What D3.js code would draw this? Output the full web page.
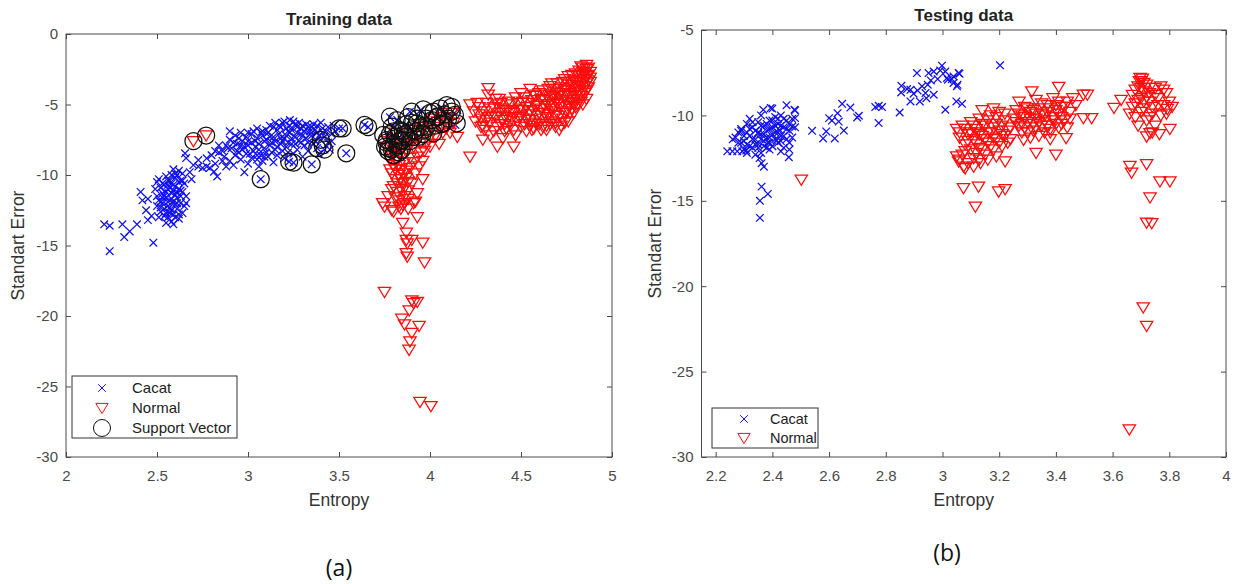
<!DOCTYPE html>
<html><head><meta charset="utf-8">
<script src="https://cdn.jsdelivr.net/npm/d3@7"></script>
<style>
body{margin:0;background:#fff;}
svg text{font-family:"Liberation Sans",Arial,sans-serif;}
</style>
</head><body>
<svg id="chart" width="1234" height="584"></svg>
<script>
// ---------- DATA ----------
const trainTitle = "Training data";
const testTitle = "Testing data";
const xLabel = "Entropy";
const yLabel = "Standart Error";
const trainLegend = ["Cacat", "Normal", "Support Vector"];
const testLegend = ["Cacat", "Normal"];
const trainXTicks = [2, 2.5, 3, 3.5, 4, 4.5, 5];
const trainYTicks = [0, -5, -10, -15, -20, -25, -30];
const testXTicks = [2.2, 2.4, 2.6, 2.8, 3, 3.2, 3.4, 3.6, 3.8, 4];
const testYTicks = [-5, -10, -15, -20, -25, -30];

const trainCacat = [
[2.21,-13.5],[2.24,-13.6],[2.24,-15.4],[2.31,-13.5],[2.32,-14.4],[2.35,-14.0],[2.39,-13.5],[2.45,-13.2],[2.48,-14.8],[2.41,-11.2],[2.42,-11.8],[2.45,-11.7],[2.44,-12.5],[2.47,-12.9],
[2.50,-10.5],[2.52,-10.9],[2.53,-11.3],[2.51,-11.8],[2.50,-12.2],[2.52,-12.6],[2.54,-12.9],[2.55,-13.4],[2.56,-12.2],[2.55,-11.6],[2.56,-11.0],[2.57,-10.4],[2.58,-10.0],[2.59,-10.7],[2.58,-11.3],[2.59,-11.9],[2.58,-12.5],[2.60,-13.0],[2.61,-12.4],[2.61,-11.6],[2.62,-11.0],[2.60,-10.2],[2.62,-9.7],[2.63,-10.4],[2.64,-11.2],[2.63,-12.0],[2.64,-12.7],[2.62,-13.1],[2.65,-12.2],[2.66,-11.5],[2.54,-10.7],[2.53,-12.0],[2.56,-13.0],[2.57,-11.8],[2.55,-10.1],[2.59,-9.6],[2.61,-10.0],[2.65,-10.6],[2.49,-11.0],[2.51,-13.0],[2.57,-12.7],[2.60,-11.4],[2.62,-12.8],[2.64,-9.9],[2.53,-11.6],[2.58,-13.3],[2.66,-12.0],[2.63,-11.5],[2.56,-10.7],[2.60,-12.1],
[2.50,-11.5],[2.51,-10.3],[2.52,-11.9],[2.53,-10.6],[2.54,-12.4],[2.55,-11.2],[2.56,-11.9],[2.57,-10.9],[2.57,-12.3],[2.58,-10.6],[2.58,-11.7],[2.59,-11.1],[2.59,-12.8],[2.60,-10.8],[2.61,-11.2],[2.61,-12.0],[2.62,-10.5],[2.63,-11.1],[2.64,-10.4],[2.54,-11.5],[2.55,-12.7],[2.52,-12.3],[2.60,-9.9],[2.59,-13.5],[2.56,-10.4],
[2.654,-8.46],[2.66,-8.8],[2.727,-8.94],[2.773,-8.82],[2.727,-9.4],[2.773,-9.4],[2.813,-9.77],[2.831,-10.1],[2.68,-9.8],[2.70,-9.3],[2.75,-9.5],[2.79,-9.5],[2.82,-9.2],[2.84,-8.4],[2.80,-8.6],[2.86,-9.0],[2.88,-9.4],[2.69,-10.3],
[3.12,-6.5],[3.15,-6.3],[3.18,-6.6],[3.20,-6.2],[3.23,-6.5],[3.26,-6.4],[3.29,-6.7],[3.32,-6.4],[3.35,-6.6],[3.38,-6.5],[3.41,-6.7],[3.44,-6.6],[3.16,-6.8],[3.22,-6.9],[3.28,-6.3],[3.34,-6.9],[3.05,-6.7],[3.08,-6.9],
[2.93,-7.2],[2.96,-7.0],[2.99,-7.3],[3.02,-7.1],[3.05,-7.4],[3.08,-7.2],[3.11,-7.0],[3.14,-7.3],[3.17,-7.1],[3.20,-7.4],[3.23,-7.0],[3.26,-7.3],[3.29,-7.1],[3.32,-7.4],[3.35,-7.2],[3.38,-7.0],[3.42,-7.3],[2.90,-7.5],[3.00,-7.6],[3.10,-7.5],[3.19,-7.6],[3.28,-7.6],
[2.88,-7.9],[2.91,-8.1],[2.94,-7.8],[2.97,-8.2],[3.00,-7.9],[3.03,-8.3],[3.06,-7.8],[3.09,-8.1],[3.12,-7.9],[3.15,-8.2],[3.18,-7.8],[3.21,-8.0],[3.24,-7.8],[3.27,-8.2],[3.31,-7.9],[3.36,-7.8],[2.86,-8.3],[2.95,-8.4],[3.04,-8.0],[3.13,-8.4],
[2.87,-8.7],[2.90,-9.0],[2.93,-8.6],[2.96,-8.9],[2.99,-8.5],[3.02,-8.8],[3.05,-8.6],[3.08,-9.0],[3.11,-8.7],[3.16,-8.6],[3.20,-8.8],[3.25,-8.5],[2.92,-9.3],[2.98,-9.8],[3.06,-9.4],[3.14,-9.1],[3.30,-8.7],[3.33,-8.3],[3.39,-8.5],
[2.84,-7.9],[2.82,-8.3],[3.46,-7.6],[3.48,-6.9],[3.45,-8.2],
[2.90,-6.9],[2.92,-7.7],[2.94,-8.3],[2.95,-7.4],[2.97,-7.6],[2.98,-8.0],[3.00,-7.0],[3.01,-8.5],[3.02,-7.7],[3.03,-6.9],[3.04,-7.6],[3.06,-8.2],[3.07,-7.0],[3.07,-8.6],[3.09,-7.6],[3.10,-6.8],[3.10,-8.4],[3.12,-7.3],[3.13,-7.7],[3.14,-6.6],[3.15,-7.6],[3.16,-8.0],[3.17,-6.5],[3.18,-7.4],[3.19,-8.3],[3.21,-6.7],[3.21,-7.2],[3.22,-7.7],[3.24,-6.8],[3.24,-7.4],[3.25,-6.2],[3.26,-7.8],[3.27,-6.6],[3.27,-7.0],[3.29,-7.7],[3.30,-6.5],[3.30,-7.2],[3.31,-6.9],[3.33,-6.6],[3.33,-7.7],[3.34,-7.1],[3.36,-6.4],[3.37,-7.6],[3.37,-6.8],[3.39,-7.2],[3.40,-6.3],[3.41,-7.0],[3.43,-6.9],[3.44,-7.7],[3.46,-7.1],[3.47,-6.5],[3.19,-6.3],[3.23,-6.1],[2.96,-7.9],[2.89,-8.1],[3.05,-8.9],[3.00,-9.2],[3.09,-8.7],[3.22,-8.4],
[3.64,-6.45],[3.66,-6.6],[3.50,-6.7],[3.52,-6.7],[3.54,-8.46],[3.07,-10.3],[3.226,-9.06],[3.25,-9.13],[3.35,-9.24],[3.38,-8.1],[3.42,-8.2],[3.40,-7.5],
[3.78,-5.9],[3.80,-6.6],[3.82,-6.1],[3.89,-5.51],[3.95,-5.39],[3.83,-7.0],[4.06,-5.27],[4.15,-5.39],[4.14,-6.45],[4.10,-5.9],[3.86,-6.5],[3.77,-7.2]
];

const trainNormal = [
[2.70,-7.6],[2.77,-7.2],
[3.76,-8.0],[3.78,-8.4],[3.80,-7.6],[3.82,-8.1],[3.84,-7.3],[3.86,-7.8],[3.88,-7.0],[3.90,-7.5],[3.92,-6.8],[3.94,-7.2],[3.96,-6.6],[3.98,-7.0],[4.00,-6.4],[4.02,-6.8],[4.04,-6.2],[4.06,-6.6],[4.08,-5.9],[4.10,-6.3],[4.12,-5.6],[3.79,-8.6],[3.83,-8.5],[3.87,-8.2],[3.91,-8.0],[3.95,-7.7],[3.99,-7.5],[4.03,-7.2],[4.07,-7.0],[3.97,-8.3],[4.05,-7.8],[4.11,-7.0],[4.15,-7.3],[3.93,-8.7],[4.00,-8.0],
[3.77,-7.6],[3.81,-7.0],[3.85,-8.0],[3.89,-7.9],[3.94,-6.4],[4.01,-6.0],[4.06,-5.6],[4.09,-6.7],[4.13,-6.3],[3.98,-7.8],
[3.78,-8.9],[3.80,-9.3],[3.82,-9.0],[3.84,-9.6],[3.79,-9.9],[3.81,-10.3],[3.83,-10.0],[3.85,-10.6],[3.87,-10.2],[3.80,-10.8],[3.82,-11.2],[3.84,-11.0],[3.86,-11.5],[3.88,-11.1],[3.83,-11.8],[3.85,-12.1],[3.77,-11.5],[3.90,-10.6],[3.92,-9.9],[3.94,-9.4],[3.96,-9.0],[3.89,-9.5],[3.86,-9.1],[3.91,-12.0],[3.93,-11.3],[3.96,-10.3],[3.75,-12.25],[3.80,-12.6],[3.83,-12.25],[3.88,-12.4],[3.92,-11.9],[3.74,-12.0],[3.79,-12.5],[3.93,-13.0],[3.85,-13.4],
[3.78,-9.6],[3.80,-8.5],[3.81,-9.6],[3.83,-9.3],[3.84,-10.3],[3.85,-9.9],[3.86,-10.9],[3.87,-9.7],[3.88,-10.5],[3.89,-8.8],[3.81,-11.6],[3.84,-12.4],[3.86,-12.0],[3.79,-11.0],[3.91,-9.1],[3.95,-8.4],[3.82,-10.6],[3.88,-11.7],
[3.87,-14.1],[3.87,-14.6],[3.90,-14.6],[3.875,-14.85],[3.96,-14.8],[3.87,-15.55],[3.875,-15.8],[3.97,-16.2],[3.75,-18.3],[3.90,-18.9],[3.93,-19.0],[3.91,-19.1],[3.886,-19.6],[3.845,-20.2],[3.86,-20.6],[3.94,-20.7],[3.90,-21.2],[3.89,-21.8],[3.885,-22.4],[3.945,-26.1],[4.005,-26.4],
[4.22,-8.7],[4.22,-5.0],[4.32,-3.85],[4.32,-4.3],[4.29,-7.5],[4.37,-8.0],[4.46,-8.0],[4.64,-6.8],[4.71,-6.8],[4.57,-6.7],[4.86,-3.5],[4.25,-6.2],[4.27,-5.7],[4.33,-7.2],[4.40,-7.4],[4.47,-7.2],[4.41,-6.9],
[4.24,-5.5],[4.27,-5.2],[4.28,-6.0],[4.30,-5.5],[4.31,-4.9],[4.33,-6.3],[4.34,-5.8],[4.35,-5.2],[4.37,-6.6],[4.38,-5.6],[4.39,-4.9],[4.40,-6.1],[4.42,-5.4],[4.43,-5.9],[4.44,-6.5],[4.45,-5.0],[4.46,-5.6],[4.48,-6.2],[4.49,-5.3],[4.50,-5.8],[4.51,-4.8],[4.52,-6.4],[4.53,-5.2],[4.54,-5.7],[4.55,-6.1],[4.56,-4.7],[4.57,-5.4],[4.58,-6.3],[4.59,-5.0],[4.36,-4.6],[4.29,-6.5],[4.47,-4.5],[4.32,-5.9],[4.41,-6.4],[4.55,-6.5],
[4.60,-5.6],[4.61,-4.6],[4.62,-6.0],[4.63,-5.1],[4.64,-4.3],[4.65,-5.7],[4.66,-4.8],[4.67,-6.2],[4.68,-5.3],[4.69,-4.1],[4.70,-4.6],[4.71,-5.8],[4.72,-5.0],[4.73,-3.8],[4.74,-4.4],[4.75,-5.5],[4.76,-3.6],[4.77,-4.2],[4.78,-4.9],[4.79,-3.3],[4.80,-3.9],[4.81,-4.6],[4.82,-3.0],[4.83,-3.6],[4.84,-2.7],[4.85,-3.2],[4.86,-2.5],[4.87,-2.9],[4.62,-4.0],[4.66,-3.7],[4.70,-3.5],[4.74,-3.2],[4.78,-2.9],[4.82,-2.6],[4.60,-6.4],[4.64,-6.5],[4.69,-6.3],[4.73,-6.0],[4.77,-5.6],[4.80,-5.2],[4.83,-4.8],[4.85,-4.2],[4.87,-3.8],[4.84,-4.0],[4.88,-3.4],[4.67,-4.4],[4.72,-4.2],[4.75,-4.7],[4.79,-4.3],[4.68,-5.0],[4.63,-5.6],[4.58,-4.4],[4.55,-3.9],[4.50,-4.2],[4.86,-2.2],[4.83,-2.3],[4.81,-3.4],[4.76,-3.0],[4.70,-4.9],
[4.26,-4.9],[4.28,-6.6],[4.30,-6.8],[4.31,-6.1],[4.33,-5.3],[4.35,-6.9],[4.36,-5.9],[4.37,-5.0],[4.39,-6.4],[4.40,-5.3],[4.42,-6.7],[4.43,-4.8],[4.44,-5.5],[4.45,-6.0],[4.46,-6.8],[4.48,-4.9],[4.49,-5.9],[4.50,-6.6],[4.51,-5.4],[4.52,-4.5],[4.53,-6.0],[4.54,-4.9],[4.55,-5.5],[4.56,-6.8],[4.57,-4.3],[4.58,-5.1],[4.59,-5.8],[4.60,-4.2],[4.61,-5.3],[4.62,-6.6],[4.63,-4.7],[4.64,-5.9],[4.65,-3.9],[4.65,-5.0],[4.66,-6.4],[4.67,-3.5],[4.67,-5.5],[4.68,-4.5],[4.69,-5.8],[4.70,-3.9],[4.71,-5.2],[4.71,-4.3],[4.72,-6.5],[4.73,-4.8],[4.73,-3.4],[4.74,-5.6],[4.75,-4.0],[4.76,-5.1],[4.76,-6.2],[4.77,-3.4],[4.77,-4.7],[4.78,-5.3],[4.78,-3.8],[4.79,-4.9],[4.80,-2.8],[4.80,-4.4],[4.81,-3.7],[4.81,-5.0],[4.82,-4.1],[4.82,-3.3],[4.83,-2.9],[4.83,-4.4],[4.84,-3.4],[4.84,-2.4],[4.85,-3.7],[4.85,-2.8],[4.86,-4.0],[4.86,-3.0],[4.87,-2.4],[4.87,-3.3],[4.88,-2.7],[4.88,-3.1],[4.86,-4.6],[4.84,-5.0],[4.79,-5.6],[4.74,-6.3],[4.69,-6.6],[4.61,-6.8],[4.53,-6.9],[4.41,-5.8],[4.38,-4.6]
];

const trainSupport = [
[2.70,-7.6],[2.77,-7.2],[3.07,-10.3],[3.226,-9.06],[3.25,-9.13],[3.35,-9.24],[3.38,-8.1],[3.42,-8.2],[3.40,-7.5],[3.41,-7.9],[3.50,-6.7],[3.52,-6.7],[3.54,-8.46],[3.64,-6.45],[3.66,-6.6],
[3.762,-7.52],[3.771,-8.11],[3.79,-6.57],[3.817,-6.1],[3.835,-6.81],[3.853,-7.52],[3.826,-7.87],[3.798,-8.58],[3.872,-7.28],[3.908,-6.81],[3.899,-5.51],[3.963,-5.34],[3.927,-6.33],[3.982,-6.57],[4.01,-6.1],[4.037,-5.86],[4.055,-5.27],[4.092,-5.04],[4.119,-5.16],[4.137,-5.74],[4.147,-6.33],[4.073,-6.33],[4.018,-7.04],[3.945,-7.28],[3.78,-5.86],[3.743,-7.16],[3.808,-7.28],[3.844,-8.23],[3.753,-7.99],
[3.79,-8.2],[3.77,-8.3],[3.80,-7.8],[3.84,-7.6],[3.86,-7.1],[3.92,-6.9],[3.97,-6.8],[4.03,-6.5],[4.08,-5.7],[4.02,-5.5],[3.88,-5.9],[3.80,-6.9],
[3.76,-7.7],[3.78,-7.1],[3.81,-7.4],[3.82,-8.0],[3.85,-6.9],[3.87,-6.4],[3.89,-7.6],[3.90,-6.3],[3.93,-6.0],[3.95,-6.6],[3.98,-6.0],[4.00,-5.6],[4.04,-5.9],[4.06,-6.4],[4.10,-6.0],[3.83,-8.4],[3.80,-8.6],[3.91,-7.3],[3.96,-7.1],[4.12,-5.5]
];

const testCacat = [
[2.241,-12.1],[2.259,-12.1],[2.276,-12.1],[2.294,-12.1],[2.308,-12.05],
[2.27,-11.3],[2.28,-11.0],[2.29,-10.8],[2.30,-11.5],[2.31,-11.0],[2.31,-10.5],[2.32,-11.8],[2.32,-11.2],[2.33,-10.7],[2.33,-11.9],[2.34,-11.4],[2.34,-10.9],[2.35,-10.4],[2.35,-11.7],[2.36,-11.1],[2.36,-12.2],[2.37,-10.6],[2.37,-11.5],[2.38,-10.9],[2.38,-11.9],[2.39,-10.3],[2.39,-11.3],[2.40,-10.7],[2.40,-11.8],[2.41,-10.1],[2.41,-11.0],[2.42,-10.5],[2.42,-11.6],[2.43,-10.0],[2.43,-11.2],[2.44,-10.7],[2.44,-11.9],[2.45,-10.3],[2.45,-11.4],[2.46,-10.9],[2.46,-12.0],[2.47,-10.2],[2.47,-11.3],[2.48,-10.7],[2.48,-9.7],[2.30,-12.0],[2.34,-12.3],[2.39,-12.0],[2.43,-12.1],[2.32,-10.2],[2.36,-10.0],[2.40,-9.6],[2.355,-12.5],[2.362,-12.8],[2.37,-13.0],[2.362,-14.17],[2.384,-14.6],[2.356,-15.0],[2.356,-16.0],[2.458,-12.45],[2.45,-9.4],[2.478,-9.67],[2.48,-10.16],[2.47,-10.65],[2.394,-9.57],[2.368,-9.67],[2.29,-11.6],[2.26,-11.4],[2.385,-11.6],[2.415,-11.45],[2.35,-11.05],[2.425,-10.85],
[2.28,-11.6],[2.29,-10.9],[2.30,-11.2],[2.31,-11.7],[2.32,-10.8],[2.33,-11.4],[2.33,-10.4],[2.34,-11.7],[2.35,-11.0],[2.36,-11.4],[2.36,-10.6],[2.37,-11.8],[2.37,-11.1],[2.38,-10.5],[2.38,-11.3],[2.39,-10.8],[2.39,-11.6],[2.40,-10.3],[2.40,-11.1],[2.41,-11.4],[2.41,-10.6],[2.42,-10.2],[2.42,-11.0],[2.43,-10.6],[2.43,-11.5],[2.44,-10.2],[2.44,-11.2],[2.45,-10.8],[2.46,-11.6],[2.46,-10.5],[2.35,-11.9],[2.31,-12.2],
[2.54,-10.9],[2.579,-11.35],[2.62,-11.35],[2.59,-10.94],[2.60,-10.16],[2.63,-9.87],[2.634,-10.36],[2.646,-9.32],[2.652,-10.89],[2.675,-9.54],[2.699,-10.12],[2.705,-10.02],[2.763,-9.51],[2.775,-9.44],[2.787,-9.51],[2.775,-10.45],[2.849,-9.83],[2.61,-10.3],
[2.854,-8.66],[2.875,-8.46],[2.887,-8.5],[2.912,-8.54],[2.928,-8.3],[2.948,-8.2],[2.959,-7.95],[2.983,-7.87],[2.998,-7.09],[3.01,-7.43],[3.019,-7.91],[3.033,-7.87],[3.06,-7.56],[3.051,-8.3],[3.01,-9.67],[3.049,-9.18],[3.069,-9.32],[2.855,-8.27],[2.887,-9.18],[2.92,-9.18],[2.94,-8.69],[2.91,-7.52],[2.951,-7.52],[2.969,-7.43],[2.992,-7.37],[3.016,-7.81],[3.039,-8.1],[2.943,-8.99],[2.898,-8.73],[2.969,-8.79],
[3.039,-7.72],[3.057,-7.52],[3.053,-8.21],[3.203,-7.07]
];

const testNormal = [
[2.502,-13.77],
[3.05,-10.8],[3.06,-11.3],[3.07,-10.6],[3.08,-11.7],[3.09,-11.1],[3.10,-10.4],[3.10,-12.0],[3.11,-11.4],[3.12,-10.8],[3.13,-11.9],[3.13,-10.2],[3.14,-11.2],[3.15,-10.6],[3.15,-12.3],[3.16,-11.6],[3.17,-10.0],[3.17,-11.0],[3.18,-12.0],[3.19,-10.5],[3.19,-11.4],[3.20,-9.8],[3.20,-10.9],[3.21,-11.8],[3.22,-10.3],[3.22,-11.2],[3.23,-11.6],[3.24,-10.7],[3.14,-9.7],[3.18,-9.6],[3.11,-12.5],[3.07,-12.3],[3.09,-12.8],[3.057,-12.7],[3.074,-13.0],[3.11,-13.0],[3.134,-12.8],[3.221,-12.7],[3.074,-14.26],[3.127,-14.17],[3.198,-14.46],[3.221,-14.32],[3.116,-15.34],[3.16,-12.6],[3.05,-12.4],[3.12,-11.0],[3.19,-12.4],[3.24,-11.4],
[3.06,-11.0],[3.08,-10.8],[3.08,-12.1],[3.09,-11.5],[3.10,-11.0],[3.11,-10.6],[3.12,-11.7],[3.12,-12.2],[3.13,-11.1],[3.14,-10.5],[3.14,-12.0],[3.15,-11.4],[3.16,-10.3],[3.16,-11.0],[3.17,-11.8],[3.18,-10.7],[3.18,-11.3],[3.19,-10.1],[3.20,-11.6],[3.21,-10.6],[3.21,-11.1],[3.22,-9.9],[3.23,-10.9],[3.06,-12.6],[3.08,-13.1],[3.13,-12.6],
[3.25,-10.2],[3.26,-9.7],[3.27,-10.6],[3.28,-10.0],[3.29,-9.5],[3.30,-10.4],[3.31,-9.8],[3.32,-10.9],[3.33,-10.2],[3.34,-9.6],[3.35,-10.6],[3.36,-10.0],[3.37,-9.4],[3.38,-10.8],[3.39,-10.3],[3.40,-9.7],[3.41,-9.2],[3.42,-10.1],[3.43,-9.5],[3.44,-10.7],[3.45,-9.8],[3.47,-9.4],[3.30,-11.0],[3.34,-11.2],[3.38,-11.4],[3.42,-10.5],[3.27,-9.2],[3.33,-9.1],[3.39,-9.0],[3.36,-11.0],[3.315,-8.6],[3.41,-8.34],[3.33,-12.2],[3.40,-12.3],[3.436,-11.33],[3.286,-11.43],[3.497,-8.79],[3.511,-8.79],[3.497,-10.16],[3.526,-10.16],[3.46,-9.0],[3.35,-9.9],[3.29,-10.7],
[3.26,-10.4],[3.27,-9.9],[3.28,-10.5],[3.29,-10.1],[3.30,-9.6],[3.31,-10.2],[3.32,-9.7],[3.32,-10.5],[3.33,-9.9],[3.34,-10.4],[3.35,-9.3],[3.36,-10.3],[3.37,-9.8],[3.37,-10.6],[3.38,-9.6],[3.39,-10.1],[3.40,-10.5],[3.40,-9.4],[3.41,-9.9],[3.42,-9.5],[3.43,-10.3],[3.44,-9.2],[3.45,-10.2],[3.41,-10.7],[3.38,-11.0],[3.33,-10.7],[3.28,-11.0],[3.31,-11.3],
[3.605,-9.57],[3.667,-13.35],[3.72,-12.86],[3.661,-12.96],[3.767,-13.87],[3.802,-13.87],[3.732,-14.81],[3.72,-16.28],[3.738,-16.31],[3.802,-10.8],[3.765,-11.1],[3.72,-11.24],[3.732,-11.04],[3.793,-9.63],[3.708,-21.24],[3.72,-22.33],[3.659,-28.39],[3.697,-7.81],
[3.67,-8.8],[3.68,-9.3],[3.69,-8.3],[3.70,-9.0],[3.70,-8.0],[3.71,-9.6],[3.71,-8.6],[3.72,-8.2],[3.73,-9.2],[3.73,-8.7],[3.74,-9.9],[3.75,-8.4],[3.76,-9.0],[3.77,-8.3],[3.78,-9.4],[3.79,-8.7],[3.80,-9.2],[3.81,-9.5],[3.66,-9.9],[3.68,-10.1],[3.72,-10.3],[3.75,-10.6],[3.63,-9.1],[3.69,-10.6],[3.74,-11.0],[3.77,-10.0],[3.695,-8.0],[3.705,-7.85],
[3.67,-9.5],[3.68,-8.5],[3.69,-9.1],[3.70,-8.4],[3.71,-9.2],[3.71,-8.1],[3.72,-8.9],[3.73,-8.4],[3.74,-9.5],[3.75,-8.8],[3.76,-9.4],[3.78,-8.5],[3.70,-9.8],[3.73,-10.1],[3.79,-9.9]
];

// ---------- DRAWING ----------
const svg = d3.select("#chart");
const BLUE = "#1010f0", RED = "#ff0d0d", AXIS = "#4a4a4a", TXT = "#333";
const xPath = "M-3.8,-3.8L3.8,3.8M-3.8,3.8L3.8,-3.8";
const triPath = "M-6.2,-4.6L6.2,-4.6L0,5.6Z";
const tickFmt = d => String(d);

function panel(cfg) {
  const {x, y, xTicks, yTicks, title, legendItems, legendBox, sets} = cfg;
  const g = svg.append("g");
  const [x0, x1] = x.range(), [y0, y1] = y.range();

  const clip = "clip" + Math.round(x0);
  svg.append("clipPath").attr("id", clip).append("rect")
    .attr("x", x0).attr("y", y1).attr("width", x1 - x0).attr("height", y0 - y1);
  const dg = g.append("g").attr("clip-path", `url(#${clip})`);
  dg.append("g").selectAll("path").data(sets.cacat).join("path")
    .attr("d", xPath).attr("transform", d => `translate(${x(d[0])},${y(d[1])})`)
    .attr("stroke", BLUE).attr("stroke-width", 1.25).attr("fill", "none");
  dg.append("g").selectAll("path").data(sets.normal).join("path")
    .attr("d", triPath).attr("transform", d => `translate(${x(d[0])},${y(d[1])})`)
    .attr("stroke", RED).attr("stroke-width", 1.25).attr("fill", "none");
  if (sets.support) {
    dg.append("g").selectAll("circle").data(sets.support).join("circle")
      .attr("cx", d => x(d[0])).attr("cy", d => y(d[1])).attr("r", 8.5)
      .attr("stroke", "#111").attr("stroke-width", 1.25).attr("fill", "none");
  }

  const ax = [
    [d3.axisBottom(x).tickValues(xTicks).tickSize(-5).tickPadding(13).tickFormat(tickFmt), `translate(0,${y0})`],
    [d3.axisTop(x).tickValues(xTicks).tickSize(-5).tickFormat(""), `translate(0,${y1})`],
    [d3.axisLeft(y).tickValues(yTicks).tickSize(-5).tickPadding(8).tickFormat(tickFmt), `translate(${x0},0)`],
    [d3.axisRight(y).tickValues(yTicks).tickSize(-5).tickFormat(""), `translate(${x1},0)`]
  ];
  ax.forEach(([a, t]) => {
    const s = g.append("g").attr("transform", t).call(a);
    s.select(".domain").remove();
    s.selectAll("line").attr("stroke", AXIS);
    s.selectAll("text").attr("fill", "#4a4a4a").style("font-size", "15px")
      .style("font-family", "'Liberation Sans',Arial,sans-serif");
  });
  g.append("rect").attr("x", x0).attr("y", y1).attr("width", x1 - x0).attr("height", y0 - y1)
    .attr("fill", "none").attr("stroke", AXIS).attr("stroke-width", 1);

  const cx = (x0 + x1) / 2;
  g.append("text").attr("x", cx).attr("y", y1 - 9).attr("text-anchor", "middle")
    .style("font-size", "17px").style("font-weight", "bold").attr("fill", "#222").text(title);
  g.append("text").attr("x", cx).attr("y", y0 + 49).attr("text-anchor", "middle")
    .style("font-size", "17.5px").attr("fill", TXT).text(xLabel);
  g.append("text").attr("transform", `translate(${cfg.yLabelX},${(y0 + y1) / 2}) rotate(-90)`)
    .attr("text-anchor", "middle").style("font-size", "17.5px").attr("fill", TXT).text(yLabel);
  g.append("text").attr("x", cfg.tag[0]).attr("y", cfg.tag[1]).attr("text-anchor", "middle")
    .style("font-size", "23px").style("font-family", "'Open Sans',sans-serif").attr("fill", "#111").text(cfg.tag[2]);

  const lb = legendBox;
  g.append("rect").attr("x", lb.x).attr("y", lb.y).attr("width", lb.w).attr("height", lb.h)
    .attr("fill", "#fff").attr("stroke", "#333").attr("stroke-width", 1);
  legendItems.forEach((name, i) => {
    const ry = lb.y + lb.first + i * lb.step;
    const mx = lb.x + lb.mx;
    if (i === 0) g.append("path").attr("d", xPath).attr("transform", `translate(${mx},${ry})`)
      .attr("stroke", BLUE).attr("fill", "none");
    if (i === 1) g.append("path").attr("d", triPath).attr("transform", `translate(${mx},${ry})`)
      .attr("stroke", RED).attr("fill", "none");
    if (i === 2) g.append("circle").attr("cx", mx).attr("cy", ry).attr("r", 8.5)
      .attr("stroke", "#111").attr("fill", "none");
    g.append("text").attr("x", lb.x + lb.tx).attr("y", ry).attr("dy", "0.35em")
      .style("font-size", lb.fs).attr("fill", "#222").text(name);
  });
}

panel({
  x: d3.scaleLinear([2, 5], [66, 612]),
  y: d3.scaleLinear([-30, 0], [457, 34]),
  xTicks: trainXTicks, yTicks: trainYTicks, title: trainTitle,
  legendItems: trainLegend,
  legendBox: {x: 72, y: 376, w: 165, h: 62, first: 12, step: 20, mx: 30, tx: 60, fs: "15px"},
  sets: {cacat: trainCacat, normal: trainNormal, support: trainSupport},
  yLabelX: 24, tag: [339, 576, "(a)"]
});
panel({
  x: d3.scaleLinear([2.15, 4], [701.5, 1226]),
  y: d3.scaleLinear([-30, -5], [457, 30]),
  xTicks: testXTicks, yTicks: testYTicks, title: testTitle,
  legendItems: testLegend,
  legendBox: {x: 712, y: 408, w: 106, h: 40, first: 11, step: 19, mx: 32, tx: 58, fs: "14.5px"},
  sets: {cacat: testCacat, normal: testNormal},
  yLabelX: 661, tag: [947, 561, "(b)"]
});
</script>
</body></html>
